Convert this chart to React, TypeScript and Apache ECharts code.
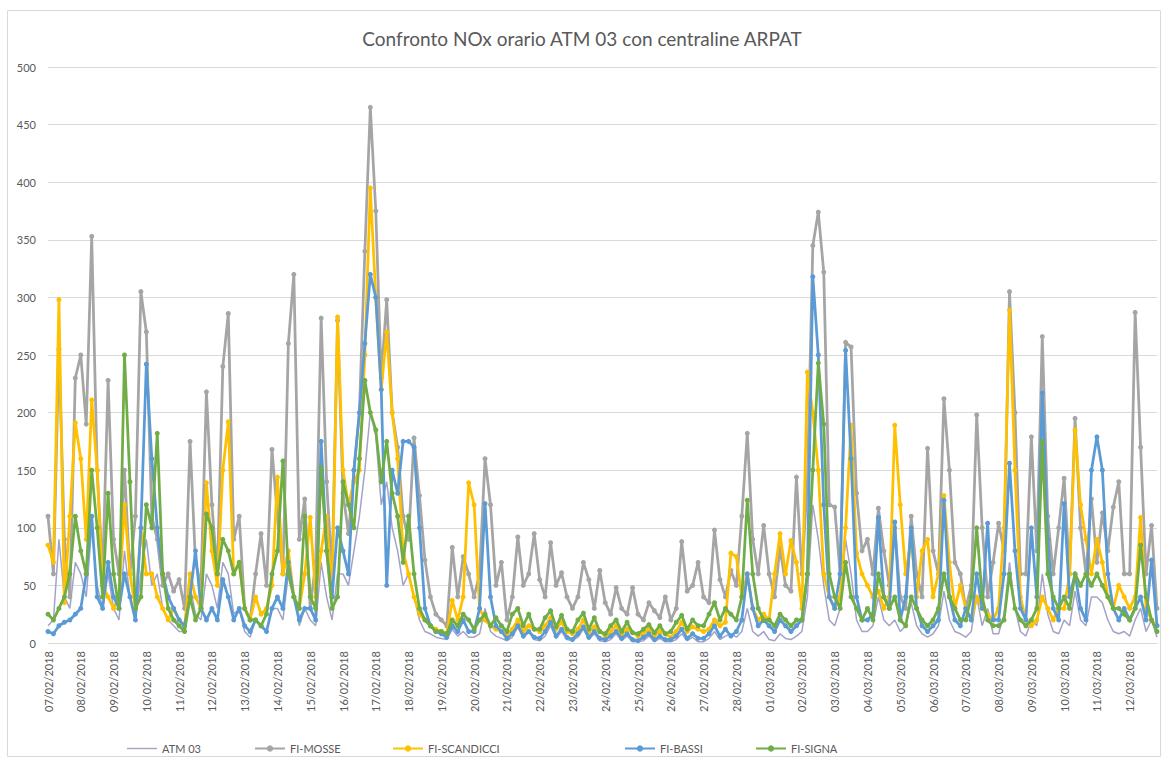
import React, { useEffect, useRef } from "react";
import * as echarts from "echarts";

const days = [
  "07/02/2018", "08/02/2018", "09/02/2018", "10/02/2018", "11/02/2018", "12/02/2018",
  "13/02/2018", "14/02/2018", "15/02/2018", "16/02/2018", "17/02/2018", "18/02/2018",
  "19/02/2018", "20/02/2018", "21/02/2018", "22/02/2018", "23/02/2018", "24/02/2018",
  "25/02/2018", "26/02/2018", "27/02/2018", "28/02/2018", "01/03/2018", "02/03/2018",
  "03/03/2018", "04/03/2018", "05/03/2018", "06/03/2018", "07/03/2018", "08/03/2018",
  "09/03/2018", "10/03/2018", "11/03/2018", "12/03/2018",
];
const hours = ["00:00", "04:00", "08:00", "12:00", "16:00", "20:00"];
const categories = days.flatMap((d) => hours.map((h) => `${d} ${h}`));

const yTicks = [0, 50, 100, 150, 200, 250, 300, 350, 400, 450, 500];

// six readings per day (00, 04, 08, 12, 16, 20)
const atm03 = [
  15, 20, 90, 40, 30, 70,
  60, 40, 100, 50, 30, 60,
  30, 20, 80, 40, 20, 60,
  90, 50, 60, 30, 20, 15,
  10, 10, 50, 25, 20, 60,
  50, 30, 70, 60, 25, 30,
  10, 5, 20, 15, 10, 30,
  30, 20, 60, 40, 15, 30,
  20, 15, 70, 40, 20, 60,
  60, 50, 80, 110, 150, 200,
  180, 120, 140, 100, 80, 50,
  60, 40, 20, 10, 8, 5,
  4, 3, 12, 6, 10, 5,
  5, 8, 30, 10, 6, 4,
  2, 5, 14, 4, 10, 3,
  2, 6, 15, 4, 10, 3,
  2, 5, 12, 3, 8, 2,
  1, 3, 8, 2, 6, 1,
  1, 2, 6, 1, 4, 1,
  1, 3, 8, 2, 5, 1,
  1, 4, 10, 3, 6, 8,
  5, 10, 30, 10, 6, 10,
  3, 2, 8, 4, 3, 6,
  10, 40, 120, 90, 50, 20,
  15, 30, 90, 60, 20, 10,
  10, 15, 40, 20, 15, 20,
  10, 15, 35, 15, 8, 5,
  8, 15, 45, 20, 10, 8,
  5, 10, 40, 15, 30, 8,
  8, 25, 70, 30, 10, 6,
  20, 15, 60, 25, 10, 8,
  20, 15, 45, 20, 15, 40,
  40, 35, 20, 10, 8, 10,
  6, 20, 30, 10, 20, 5,
];

const fiMosse = [
  110, 60, 255, 90, 40, 230,
  250, 190, 353, 150, 60, 228,
  90, 60, 150, 60, 110, 305,
  270, 110, 90, 50, 60, 45,
  55, 30, 175, 70, 50, 218,
  120, 60, 240, 286, 90, 110,
  30, 20, 60, 95, 50, 168,
  110, 60, 260, 320, 90, 125,
  30, 70, 282, 140, 60, 280,
  130, 95, 150, 200, 340, 465,
  375, 230, 298, 200, 170, 110,
  90, 178, 128, 72, 40, 25,
  20, 15, 83, 40, 75, 60,
  40, 60, 160, 120, 50, 70,
  20, 40, 92, 50, 60, 95,
  55, 40, 87, 50, 61, 40,
  30, 40, 70, 55, 30, 63,
  35, 25, 48, 30, 25, 48,
  25, 20, 35, 28, 22, 40,
  20, 30, 88, 45, 50, 70,
  40, 35, 98, 55, 40, 63,
  50, 110, 182, 90, 60, 102,
  60, 40, 83, 50, 45, 144,
  60, 140, 345, 374, 322, 120,
  118, 60, 261, 257, 130, 80,
  90, 60, 117, 80, 50, 100,
  40, 30, 110, 60, 40, 169,
  80, 60, 212, 150, 70, 60,
  30, 50, 198, 100, 40, 70,
  104, 80, 305, 200, 60, 60,
  179, 80, 266, 110, 60, 100,
  143, 60, 195, 100, 60, 125,
  70, 113, 80, 118, 140, 60,
  60, 287, 170, 60, 102, 30,
];

const fiScandicci = [
  85, 70, 298, 35, 110, 191,
  160, 90, 211, 150, 50, 40,
  30, 40, 120, 60, 30, 100,
  60, 60, 40, 30, 20, 30,
  20, 15, 60, 40, 30, 139,
  80, 50, 150, 192, 60, 70,
  30, 20, 40, 25, 30, 50,
  144, 60, 80, 40, 30, 60,
  109, 40, 80, 110, 40, 283,
  150, 120, 140, 150, 250, 395,
  300, 220, 270, 200, 160, 80,
  60, 40, 25, 20, 15, 12,
  10, 8, 37, 20, 40, 139,
  120, 30, 20, 15, 12, 10,
  8, 12, 20, 10, 15, 12,
  10, 15, 22, 12, 18, 10,
  8, 12, 20, 10, 14, 10,
  6, 10, 15, 8, 12, 9,
  6, 8, 12, 7, 10, 8,
  5, 10, 18, 10, 14, 12,
  10, 12, 20, 15, 18, 78,
  75, 40, 60, 30, 20, 25,
  20, 60, 95, 60, 89, 70,
  30, 235, 200, 150, 60, 40,
  30, 40, 100, 189, 78, 60,
  50, 40, 45, 30, 40, 189,
  120, 60, 90, 40, 80, 90,
  40, 60, 128, 70, 30, 50,
  30, 20, 40, 30, 25, 20,
  30, 100, 289, 150, 40, 20,
  15, 20, 40, 30, 20, 30,
  30, 60, 185, 120, 90, 60,
  90, 70, 40, 30, 50, 40,
  30, 40, 109, 30, 20, 15,
];

const fiBassi = [
  10, 8, 15, 18, 20, 25,
  30, 60, 110, 40, 30, 70,
  40, 30, 60, 40, 20, 100,
  242, 160, 100, 60, 40, 30,
  20, 15, 40, 80, 30, 20,
  30, 20, 55, 40, 20, 30,
  15, 10, 20, 15, 10, 30,
  40, 30, 70, 40, 20, 30,
  30, 20, 175, 80, 40, 100,
  80, 60, 150, 200, 260, 320,
  300, 220, 50, 150, 130, 175,
  175, 170, 100, 30, 15, 10,
  8, 5, 15, 10, 20, 10,
  10, 30, 121, 40, 15, 10,
  4, 8, 15, 6, 10, 5,
  4, 10, 18, 6, 12, 5,
  3, 8, 14, 5, 10, 4,
  3, 6, 10, 4, 8, 3,
  2, 5, 8, 3, 6, 3,
  3, 6, 12, 4, 8, 4,
  4, 8, 15, 6, 12, 6,
  10, 20, 60, 30, 15, 20,
  15, 10, 20, 15, 10, 15,
  20, 60, 318, 250, 120, 40,
  30, 60, 254, 160, 40, 20,
  20, 25, 109, 40, 30, 105,
  20, 40, 100, 30, 15, 10,
  15, 20, 124, 40, 20, 15,
  30, 20, 60, 30, 104, 20,
  20, 60, 156, 80, 30, 20,
  100, 40, 217, 90, 30, 20,
  121, 40, 60, 30, 20, 150,
  179, 150, 60, 30, 20, 30,
  20, 30, 40, 20, 72, 15,
];

const fiSigna = [
  25, 20, 30, 40, 60, 110,
  80, 60, 150, 100, 40, 130,
  60, 30, 250, 140, 30, 40,
  120, 100, 182, 60, 30, 20,
  15, 10, 40, 20, 30, 112,
  100, 60, 90, 80, 60, 70,
  30, 20, 20, 15, 25, 60,
  80, 158, 60, 40, 30, 110,
  40, 30, 152, 80, 30, 40,
  140, 120, 100, 160, 228, 200,
  185, 140, 175, 130, 110, 70,
  110, 60, 30, 20, 15, 10,
  10, 8, 20, 15, 25, 20,
  12, 20, 25, 15, 22, 15,
  10, 25, 30, 15, 25, 12,
  12, 22, 28, 14, 24, 12,
  10, 20, 26, 12, 22, 10,
  8, 15, 20, 10, 18, 9,
  8, 12, 16, 9, 15, 8,
  10, 18, 24, 12, 20, 15,
  15, 25, 35, 20, 30, 25,
  20, 40, 124, 60, 30, 20,
  20, 15, 25, 20, 15, 20,
  20, 60, 150, 243, 190, 60,
  40, 30, 70, 40, 30, 20,
  30, 20, 60, 40, 30, 40,
  20, 15, 40, 30, 20, 15,
  20, 30, 60, 40, 30, 20,
  20, 40, 100, 40, 20, 15,
  15, 20, 60, 30, 20, 15,
  20, 30, 175, 60, 40, 30,
  40, 30, 60, 50, 60, 50,
  60, 50, 40, 30, 30, 25,
  20, 30, 85, 40, 20, 10,
];

const seriesNames = ["ATM 03", "FI-MOSSE", "FI-SCANDICCI", "FI-BASSI", "FI-SIGNA"];
const seriesColors = ["#a3a3c8", "#a5a5a5", "#ffc000", "#5b9bd5", "#70ad47"];
const seriesData = [atm03, fiMosse, fiScandicci, fiBassi, fiSigna];
const legendLeft = [122, 249, 387, 619, 750];

const FONT = "Lato, 'Open Sans', sans-serif";

export default function App() {
  const ref = useRef<HTMLDivElement>(null);
  useEffect(() => {
    document.body.style.margin = "0";
    const chart = echarts.init(ref.current!, null, { renderer: "svg" });
    chart.setOption({
      animation: false,
      backgroundColor: "#ffffff",
      title: {
        text: "Confronto NOx orario ATM 03 con centraline ARPAT",
        left: "center",
        top: 24,
        textStyle: { color: "#595959", fontSize: 19, fontWeight: "normal", fontFamily: FONT },
      },
      graphic: [
        {
          type: "rect",
          left: 5,
          top: 8,
          shape: { width: 1153, height: 746 },
          style: { fill: "none", stroke: "#d9d9d9", lineWidth: 1 },
          silent: true,
        },
      ],
      legend: seriesNames.map((n, i) => ({
        data: [
          i === 0
            ? { name: n, icon: "path://M0,0 M0,3.3 L30,3.3 L30,4.7 L0,4.7 Z M30,8" }
            : n,
        ],
        left: legendLeft[i],
        top: 738,
        itemWidth: 30,
        itemHeight: 8,
        itemGap: 2,
        textStyle: { color: "#595959", fontSize: 11, fontFamily: FONT },
      })),
      grid: { left: 48, right: 7, top: 67, bottom: 117, containLabel: false },
      xAxis: {
        type: "category",
        data: categories,
        boundaryGap: false,
        axisLine: { lineStyle: { color: "#d9d9d9" } },
        axisTick: { show: false },
        axisLabel: {
          interval: 5,
          rotate: 90,
          color: "#595959",
          fontSize: 11,
          fontFamily: FONT,
          margin: 8,
          formatter: (v: string) => v.split(" ")[0],
        },
        splitLine: { show: false },
      },
      yAxis: {
        type: "value",
        min: yTicks[0],
        max: yTicks[yTicks.length - 1],
        interval: 50,
        axisLine: { show: false },
        axisTick: { show: false },
        axisLabel: { color: "#595959", fontSize: 11, fontFamily: FONT, margin: 12 },
        splitLine: { lineStyle: { color: "#d9d9d9", width: 1 } },
      },
      series: seriesNames.map((n, i) => ({
        name: n,
        type: "line",
        data: seriesData[i],
        color: seriesColors[i],
        symbol: i === 0 ? "none" : "circle",
        symbolSize: 5,
        showSymbol: i !== 0,
        showAllSymbol: true,
        lineStyle: { width: i === 0 ? 1.5 : 2.75, color: seriesColors[i] },
        itemStyle: { color: seriesColors[i] },
        z: 2 + i,
      })),
    });
    return () => chart.dispose();
  }, []);
  return <div ref={ref} style={{ width: 1164, height: 760 }} />;
}
